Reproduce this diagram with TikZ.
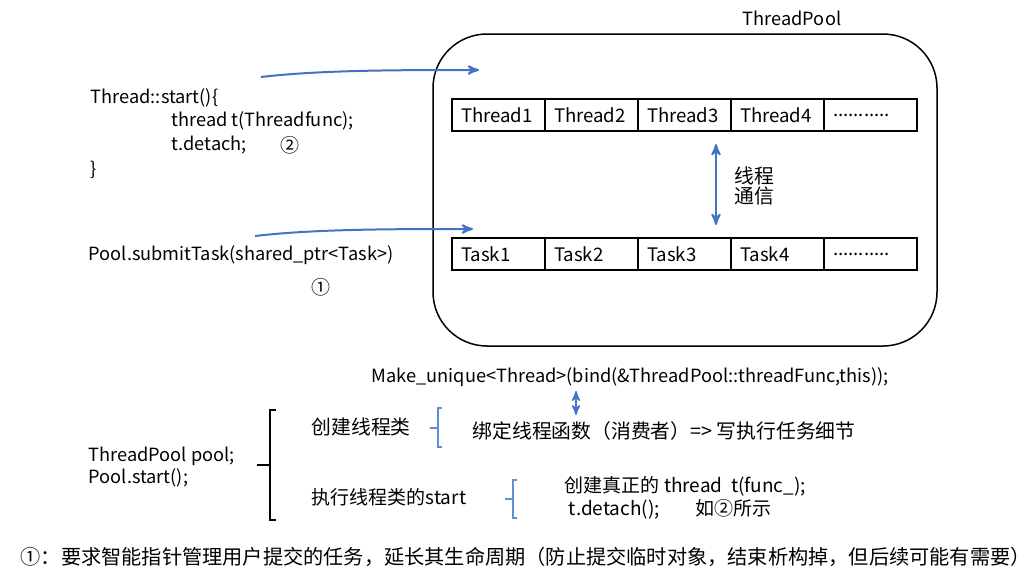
\documentclass[tikz,border=0pt]{standalone}
\usepackage{fontspec}
\setmainfont{Noto Sans CJK SC}
\usepackage{tikz}
\usetikzlibrary{arrows}
\definecolor{arrowblue}{RGB}{68,114,196}
\definecolor{brackblue}{RGB}{100,140,210}

\begin{document}
\begin{tikzpicture}[x=0.5pt, y=-0.5pt, line width=0.75pt,
  txt/.style={anchor=west, inner sep=0pt, font=\fontsize{9.5}{11}\selectfont},
  code/.style={txt, font=\fontsize{9.1}{11}\selectfont},
  cn/.style={txt, font=\fontsize{9.9}{11}\selectfont},
  cell/.style={draw, anchor=west, outer sep=0pt, inner xsep=4.5pt,
    text width=37.5pt, minimum height=16pt, align=left,
    font=\fontsize{9.3}{11}\selectfont},
  flow/.style={draw=arrowblue, line width=1pt, -stealth'},
  both/.style={draw=arrowblue, line width=1pt, stealth'-stealth'}]
\useasboundingbox (0,0) rectangle (1034,586);

  \node[code, anchor=center] (poolname) at (792,18) {ThreadPool};
  \draw[rounded corners=27pt] (433,34) rectangle (937,346);

  % threads
  \node[cell] (th1) at (452,115) {Thread1};
  \node[cell] (th2) at (th1.east) {Thread2};
  \node[cell] (th3) at (th2.east) {Thread3};
  \node[cell] (th4) at (th3.east) {Thread4};
  \node[cell] (th5) at (th4.east) {...........};
  % tasks
  \node[cell] (tk1) at (452,254) {Task1};
  \node[cell] (tk2) at (tk1.east) {Task2};
  \node[cell] (tk3) at (tk2.east) {Task3};
  \node[cell] (tk4) at (tk3.east) {Task4};
  \node[cell] (tk5) at (tk4.east) {...........};

  \coordinate (comtop) at (716,144);
  \coordinate (combot) at (716,225);
  \draw[both] (comtop) -- (combot);
  \node[cn, align=left] (comm) at (734,186) {线程\\[-1pt]通信};

  % left side code
  \node[code] (start1) at (90,98) {Thread::start()\{};
  \node[code] (start2) at (171,121) {thread t(Threadfunc);};
  \node[code] (start3) at (171,145) {t.detach;};
  \node[txt] (two) at (280,145) {②};
  \node[code] (start4) at (90,170) {\}};
  \node[code] (submit) at (88,255) {Pool.submitTask(shared\_ptr<Task>)};
  \node[txt] (one) at (311,287) {①};

  \coordinate (a1) at (261,77);
  \coordinate (b1) at (479,70);
  \coordinate (a2) at (255,236);
  \coordinate (b2) at (473,229);
  \draw[flow] (a1) .. controls (320,70) and (400,70) .. (b1);
  \draw[flow] (a2) .. controls (314,229) and (394,229) .. (b2);

  % lower part
  \node[code] (make) at (371,377) {Make\_unique<Thread>(bind(\&ThreadPool::threadFunc,this));};
  \coordinate (mk1) at (576,391);
  \coordinate (mk2) at (576,415);
  \draw[both, line width=0.8pt] (mk1) -- (mk2);

  \node[code] (pool1) at (88,456) {ThreadPool pool;};
  \node[code] (pool2) at (88,478) {Pool.start();};
  \draw[line width=1.1pt]
   (276,410) -- (270,410) -- (270,520) -- (276,520)
   (257,465) -- (270,465);

  \node[cn] (create) at (311,427) {创建线程类};
  \draw[brackblue, line width=0.6pt]
   (442,408) -- (438,408) -- (438,447) -- (442,447)
   (430,428) -- (438,428);
  \node[cn] (bindf) at (472,431) {绑定线程函数（消费者）=> 写执行任务细节};

  \node[txt] (run) at (311,497) {执行线程类的start};
  \draw[brackblue, line width=0.6pt]
   (517,480) -- (513,480) -- (513,518) -- (517,518)
   (505,499) -- (513,499);
  \node[txt] (real1) at (564,486) {创建真正的 thread\ \ t(func\_);};
  \node[txt] (real2) at (568,509) {t.detach();\hspace{18pt}如②所示};

  \node[cn, font=\fontsize{10.1}{11}\selectfont] (note) at (20,557) {①：要求智能指针管理用户提交的任务，延长其生命周期（防止提交临时对象，结束析构掉，但后续可能有需要）};
\end{tikzpicture}
\end{document}
